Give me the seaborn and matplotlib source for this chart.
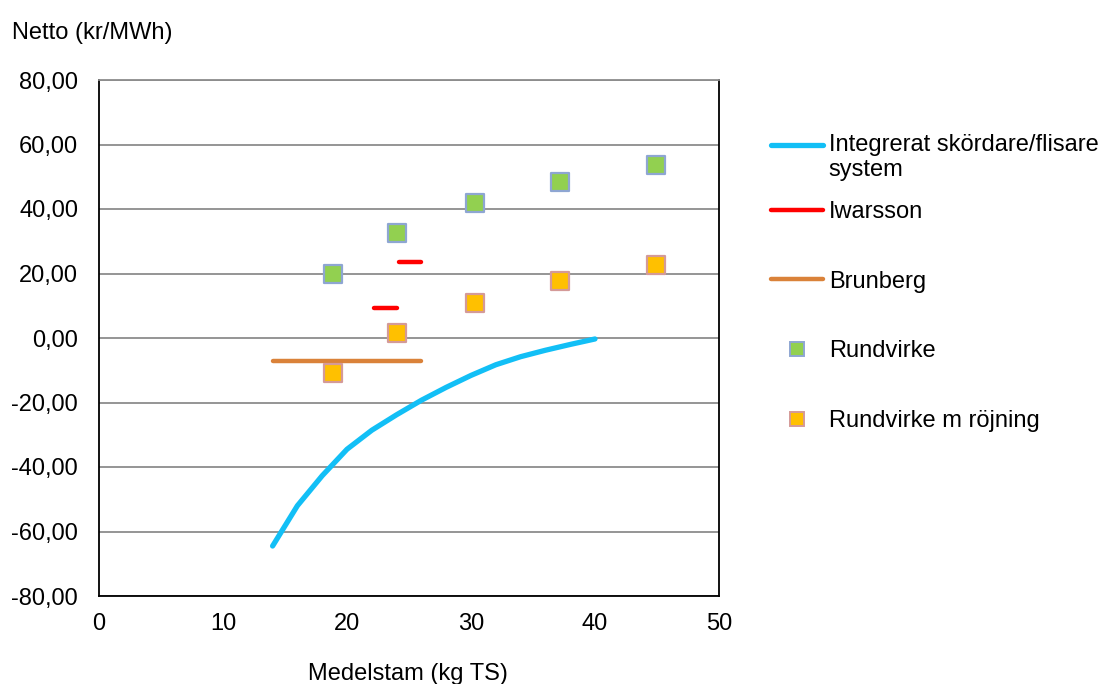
import matplotlib
matplotlib.use("Agg")
import matplotlib.pyplot as plt
import seaborn as sns
import pandas as pd
from matplotlib.lines import Line2D
from matplotlib.legend_handler import HandlerLine2D

# Integrated harvester/chipper system curve
system_x = [14, 16, 18, 20, 22, 24, 26, 28, 30, 32, 34, 36, 38, 40]
system_y = [-64.5, -52.0, -42.7, -34.5, -28.6, -23.8, -19.3, -15.3, -11.6, -8.3, -5.8, -3.8, -2.0, -0.3]

# Iwarsson: two short level segments
iwarsson_seg = [0, 0, 1, 1]
iwarsson_x = [22.2, 24.0, 24.2, 26.0]
iwarsson_y = [9.2, 9.2, 23.6, 23.6]

# Brunberg: one level segment
brunberg_x = [14.0, 26.0]
brunberg_y = [-7.2, -7.2]

# Roundwood cases
rund_x = [18.85, 24.05, 30.3, 37.2, 44.9]
rund_y = [19.8, 32.5, 41.8, 48.5, 53.6]
rojning_y = [-10.9, 1.6, 10.8, 17.6, 22.5]

y_ticks = [-80, -60, -40, -20, 0, 20, 40, 60, 80]
y_labels = ["-80,00", "-60,00", "-40,00", "-20,00", "0,00", "20,00", "40,00", "60,00", "80,00"]
x_ticks = [0, 10, 20, 30, 40, 50]

sns.set_theme(style="white")
plt.rcParams["font.family"] = ["Liberation Sans", "DejaVu Sans"]
plt.rcParams["text.color"] = "black"

FS = 17

C_SYS = "#12BFF6"
C_IW = "#FF0000"
C_BR = "#DA8239"
C_RV = "#92D050"
C_RV_E = "#8EA6D2"
C_RJ = "#FFC000"
C_RJ_E = "#D49A98"


class FirstLineHandler(HandlerLine2D):
    """Line handle raised to sit beside the first line of a two-line label."""

    def __init__(self, shift, **kw):
        super().__init__(**kw)
        self.shift = shift

    def create_artists(self, legend, orig_handle, xdescent, ydescent, width,
                       height, fontsize, trans):
        artists = super().create_artists(legend, orig_handle, xdescent, ydescent,
                                         width, height, fontsize, trans)
        for a in artists:
            a.set_ydata([y + self.shift for y in a.get_ydata()])
        return artists


fig = plt.figure(figsize=(11.06, 6.84), dpi=100)
ax = fig.add_axes([99 / 1106, 88 / 684, 620 / 1106, 516 / 684])

sys_df = pd.DataFrame({"x": system_x, "y": system_y})
iw_df = pd.DataFrame({"seg": iwarsson_seg, "x": iwarsson_x, "y": iwarsson_y})
br_df = pd.DataFrame({"x": brunberg_x, "y": brunberg_y})
rv_df = pd.DataFrame({"x": rund_x, "y": rund_y})
rj_df = pd.DataFrame({"x": rund_x, "y": rojning_y})

sns.lineplot(data=sys_df, x="x", y="y", ax=ax, color=C_SYS, lw=3.8,
             solid_capstyle="round", solid_joinstyle="round", sort=False, zorder=3)
sns.lineplot(data=iw_df, x="x", y="y", units="seg", estimator=None, ax=ax,
             color=C_IW, lw=3.2, solid_capstyle="round", zorder=3)
sns.lineplot(data=br_df, x="x", y="y", ax=ax, color=C_BR, lw=3.2,
             solid_capstyle="round", zorder=3)
sns.scatterplot(data=rv_df, x="x", y="y", ax=ax, marker="s", s=175,
                color=C_RV, edgecolor=C_RV_E, linewidth=1.6, zorder=4)
sns.scatterplot(data=rj_df, x="x", y="y", ax=ax, marker="s", s=175,
                color=C_RJ, edgecolor=C_RJ_E, linewidth=1.6, zorder=4)

ax.set_xlim(0, 50)
ax.set_ylim(-80, 80)
ax.set_xticks(x_ticks)
ax.set_yticks(y_ticks)
ax.set_yticklabels(y_labels)
ax.yaxis.grid(True, color="#8C8C8C", lw=1.3)
ax.set_axisbelow(True)
ax.tick_params(axis="both", length=0, labelsize=FS, colors="black")
ax.tick_params(axis="y", pad=15)
ax.tick_params(axis="x", pad=12)
for side in ("left", "bottom", "right"):
    ax.spines[side].set_color("black")
    ax.spines[side].set_linewidth(1.3)
ax.spines["top"].set_color("#8C8C8C")
ax.spines["top"].set_linewidth(1.3)

ax.set_xlabel("")
ax.set_ylabel("")
fig.text(408 / 1106, 1 - 674 / 684, "Medelstam (kg TS)", ha="center", va="center", fontsize=FS)
fig.text(12 / 1106, 1 - 33 / 684, "Netto (kr/MWh)", ha="left", va="center", fontsize=FS)

sys_handle = Line2D([], [], color=C_SYS, lw=3.8, solid_capstyle="round")
other_handles = [
    Line2D([], [], color=C_IW, lw=3.2, solid_capstyle="round"),
    Line2D([], [], color=C_BR, lw=3.2, solid_capstyle="round"),
    Line2D([], [], ls="none", marker="s", markersize=10, markerfacecolor=C_RV,
           markeredgecolor=C_RV_E, markeredgewidth=1.4),
    Line2D([], [], ls="none", marker="s", markersize=10, markerfacecolor=C_RJ,
           markeredgecolor=C_RJ_E, markeredgewidth=1.4),
]
other_labels = ["Iwarsson", "Brunberg", "Rundvirke", "Rundvirke m röjning"]

leg_kw = dict(loc="upper left", frameon=False, fontsize=FS, handlelength=2.2,
              handletextpad=0.25, borderaxespad=0, borderpad=0)
fig.legend([sys_handle], ["Integrerat skördare/flisare\nsystem"],
           bbox_to_anchor=(771 / 1106, 1 - 134 / 684),
           handler_map={sys_handle: FirstLineHandler(shift=9.0)}, **leg_kw)
fig.legend(other_handles, other_labels,
           bbox_to_anchor=(771 / 1106, 1 - 201 / 684),
           labelspacing=2.02, **leg_kw)

fig.savefig("out.png", dpi=100)
